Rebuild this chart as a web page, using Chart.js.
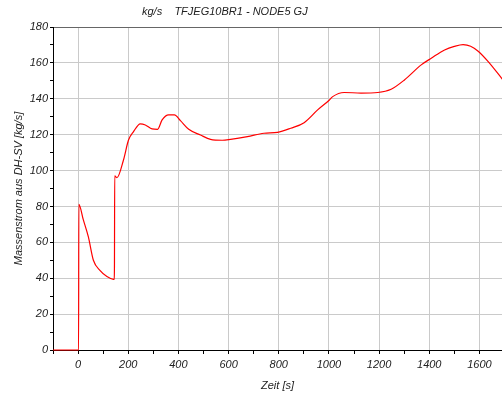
<!DOCTYPE html>
<html>
<head>
<meta charset="utf-8">
<script src="https://cdn.jsdelivr.net/npm/chart.js@4.4.1/dist/chart.umd.min.js"></script>
<style>
  html, body { margin: 0; padding: 0; background: #fff; }
  #wrap { width: 502px; height: 397px; }
</style>
</head>
<body>
<div id="wrap"><canvas id="chart"></canvas></div>
<script>
// values
const timeSec = [-100, 2, 3, 21, 41, 61, 88, 115, 141, 144, 145, 146, 155, 181, 201, 221, 248, 268, 295, 317,
  335, 361, 384, 408, 441, 488, 528, 575, 608, 675, 741, 795, 848, 901, 955, 1001, 1015, 1061, 1128, 1195,
  1248, 1301, 1368, 1408, 1461, 1500, 1535, 1565, 1595, 1635, 1695];
const massFlow = [0, 0, 81.2, 72.5, 63, 50, 44.2, 40.9, 39.4, 39.5, 46.8, 97, 96, 105.9, 117, 121.7, 126, 125.4, 123.2, 123,
  128.2, 131, 131, 127.8, 123, 119.8, 117.4, 116.9, 117.4, 118.9, 120.8, 121.3, 123.6, 126.7, 133.8, 139.2, 141.2, 143.5, 143.2, 143.5,
  145.3, 150.5, 158.9, 162.6, 167.2, 169.2, 170.2, 169.3, 166.5, 160.7, 150.3];

const chartTitle = 'kg/s    TFJEG10BR1 - NODE5 GJ';
const xTitle = 'Zeit [s]';
const yTitle = 'Massenstrom aus DH-SV [kg/s]';

const font = { family: '"Liberation Sans", Arial, sans-serif', size: 11, style: 'italic' };

const isMajor = (v, step) => Math.round(v) % step === 0;

const titlePlugin = {
  id: 'topTitle',
  afterDraw(chart) {
    const c = chart.ctx;
    c.save();
    c.font = 'italic 11px "Liberation Sans", Arial, sans-serif';
    c.fillStyle = '#222';
    c.textBaseline = 'middle';
    c.fillText(chartTitle, 142, 12);
    c.restore();
  }
};

const ctx = document.getElementById('chart').getContext('2d');
new Chart(ctx, {
  type: 'line',
  data: {
    datasets: [{
      data: timeSec.map((t, i) => ({ x: t, y: massFlow[i] })),
      borderColor: '#ff0000',
      borderWidth: 1.2,
      pointRadius: 0,
      cubicInterpolationMode: 'monotone',
      clip: 3,
    }]
  },
  options: {
    responsive: true,
    maintainAspectRatio: false,
    animation: false,
    layout: { padding: { top: 27, right: 0, left: 0, bottom: 0 } },
    plugins: {
      legend: { display: false },
      tooltip: { enabled: false },
    },
    scales: {
      x: {
        type: 'linear',
        min: -100,
        max: 1690,
        afterFit: s => { s.height = 47; },
        afterBuildTicks: s => {
          const t = [];
          for (let v = -100; v <= 1600; v += 100) t.push({ value: v });
          s.ticks = t;
        },
        border: { color: '#000', width: 1 },
        grid: {
          color: c => (c.tick && c.tick.value > -100 && isMajor(c.tick.value, 200)) ? '#cacaca' : 'rgba(0,0,0,0)',
          tickColor: '#000',
          tickLength: 4,
        },
        ticks: {
          autoSkip: false,
          maxRotation: 0,
          color: '#222',
          font: font,
          padding: 4,
          callback: v => isMajor(v, 200) ? String(Math.round(v)) : '',
        },
        title: { display: true, text: xTitle, color: '#222', font: font, padding: { top: 2 } },
      },
      y: {
        min: 0,
        max: 180,
        afterFit: s => { s.width = 53; },
        border: { color: '#000', width: 1 },
        grid: {
          color: c => c.tick && c.tick.value === 180 ? '#666' : (c.tick && isMajor(c.tick.value, 20) ? '#cacaca' : 'rgba(0,0,0,0)'),
          tickColor: '#000',
          tickLength: 3,
        },
        ticks: {
          stepSize: 10,
          autoSkip: false,
          color: '#222',
          font: font,
          padding: 2,
          callback: v => isMajor(v, 20) ? String(v) : '',
        },
        title: { display: true, text: yTitle, color: '#222', font: font, padding: { top: 12, bottom: 0 } },
      }
    }
  },
  plugins: [titlePlugin]
});
</script>
</body>
</html>
